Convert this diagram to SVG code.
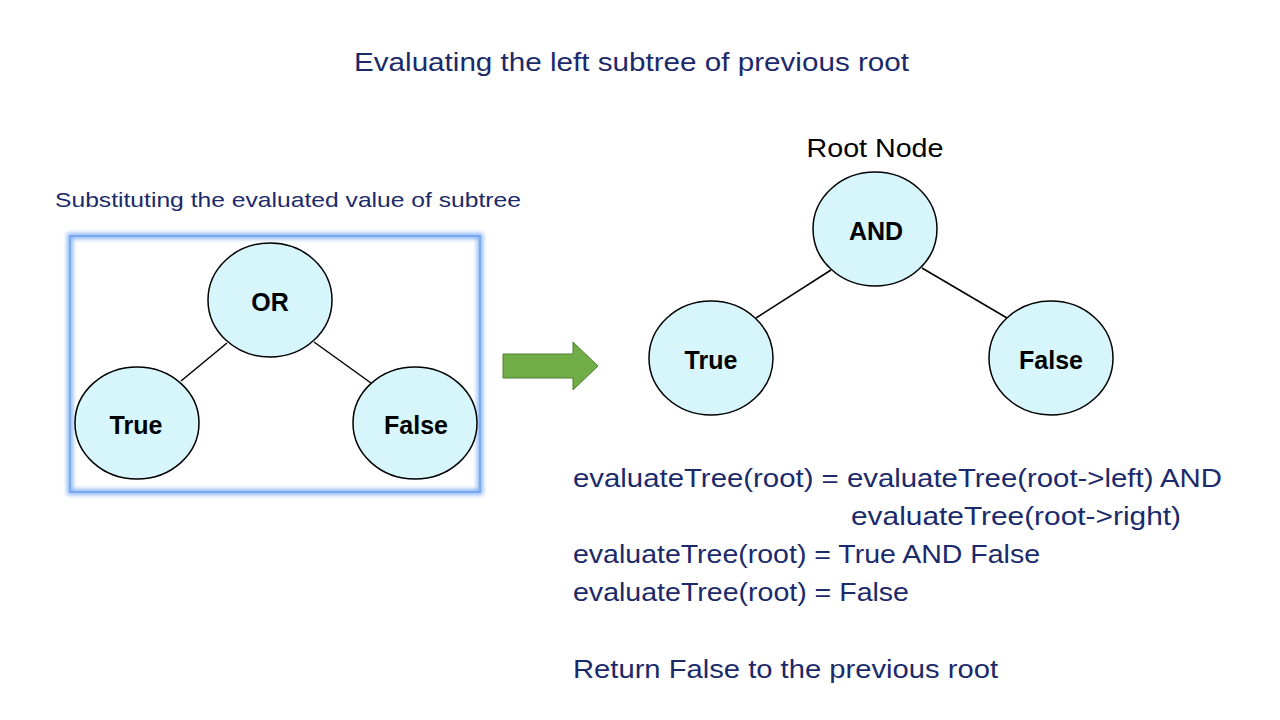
<svg xmlns="http://www.w3.org/2000/svg" width="1280" height="720" viewBox="0 0 1280 720">
<style>
.t{font-family:"Liberation Sans",Arial,sans-serif;fill:#1B2A6B}
.n{font-family:"Liberation Sans",Arial,sans-serif;font-weight:bold;font-size:25px;fill:#000;text-anchor:middle}
.node{fill:#D6F6FC;stroke:#000;stroke-width:1.5}
.edge{stroke:#000;stroke-width:1.5;fill:none}
</style>
<defs>
<filter id="glow" x="-10%" y="-10%" width="120%" height="120%"><feGaussianBlur stdDeviation="2"/></filter>
</defs>
<rect width="1280" height="720" fill="#fff"/>
<text class="t" x="354" y="71" font-size="26" textLength="555" lengthAdjust="spacingAndGlyphs">Evaluating the left subtree of previous root</text>
<text class="t" x="55" y="207" font-size="21" textLength="466" lengthAdjust="spacingAndGlyphs">Substituting the evaluated value of subtree</text>
<g id="box">
<rect x="70" y="236" width="410" height="256" fill="none" stroke="#8DB8F5" stroke-width="6" filter="url(#glow)"/>
<rect x="70" y="236" width="410" height="256" fill="none" stroke="#7AA9F0" stroke-width="2"/>
</g>
<g id="connectors">
<line class="edge" x1="227" y1="343" x2="181" y2="381"/>
<line class="edge" x1="314" y1="342" x2="371" y2="383"/>
<line class="edge" x1="831" y1="270" x2="756" y2="318"/>
<line class="edge" x1="922" y1="268" x2="1007" y2="318"/>
</g>
<g id="or"><ellipse class="node" cx="270" cy="300" rx="62" ry="57"/><text class="n" x="270" y="311">OR</text></g>
<g id="true-left"><ellipse class="node" cx="137" cy="423" rx="62" ry="56"/><text class="n" x="136" y="434">True</text></g>
<g id="false-left"><ellipse class="node" cx="415" cy="423" rx="62" ry="56"/><text class="n" x="416" y="434">False</text></g>
<g id="arrow"><path d="M503,354 H573 V342 L598,366 L573,390 V378 H503 Z" fill="#70AD47" stroke="#507E32" stroke-width="1"/></g>
<text x="875" y="157" font-family="Liberation Sans,Arial,sans-serif" font-size="25" fill="#000" text-anchor="middle" textLength="137" lengthAdjust="spacingAndGlyphs">Root Node</text>
<g id="and"><ellipse class="node" cx="875" cy="229" rx="62" ry="57"/><text class="n" x="876" y="240">AND</text></g>
<g id="true-right"><ellipse class="node" cx="711" cy="358" rx="62" ry="57"/><text class="n" x="711" y="369">True</text></g>
<g id="false-right"><ellipse class="node" cx="1051" cy="358" rx="62" ry="57"/><text class="n" x="1051" y="369">False</text></g>
<text class="t" x="573" y="487" font-size="25" textLength="649" lengthAdjust="spacingAndGlyphs">evaluateTree(root) = evaluateTree(root-&gt;left) AND</text>
<text class="t" x="851" y="525" font-size="25" textLength="330" lengthAdjust="spacingAndGlyphs">evaluateTree(root-&gt;right)</text>
<text class="t" x="573" y="563" font-size="25" textLength="467" lengthAdjust="spacingAndGlyphs">evaluateTree(root) = True AND False</text>
<text class="t" x="573" y="601" font-size="25" textLength="336" lengthAdjust="spacingAndGlyphs">evaluateTree(root) = False</text>
<text class="t" x="573" y="678" font-size="25" textLength="425" lengthAdjust="spacingAndGlyphs">Return False to the previous root</text>
</svg>
